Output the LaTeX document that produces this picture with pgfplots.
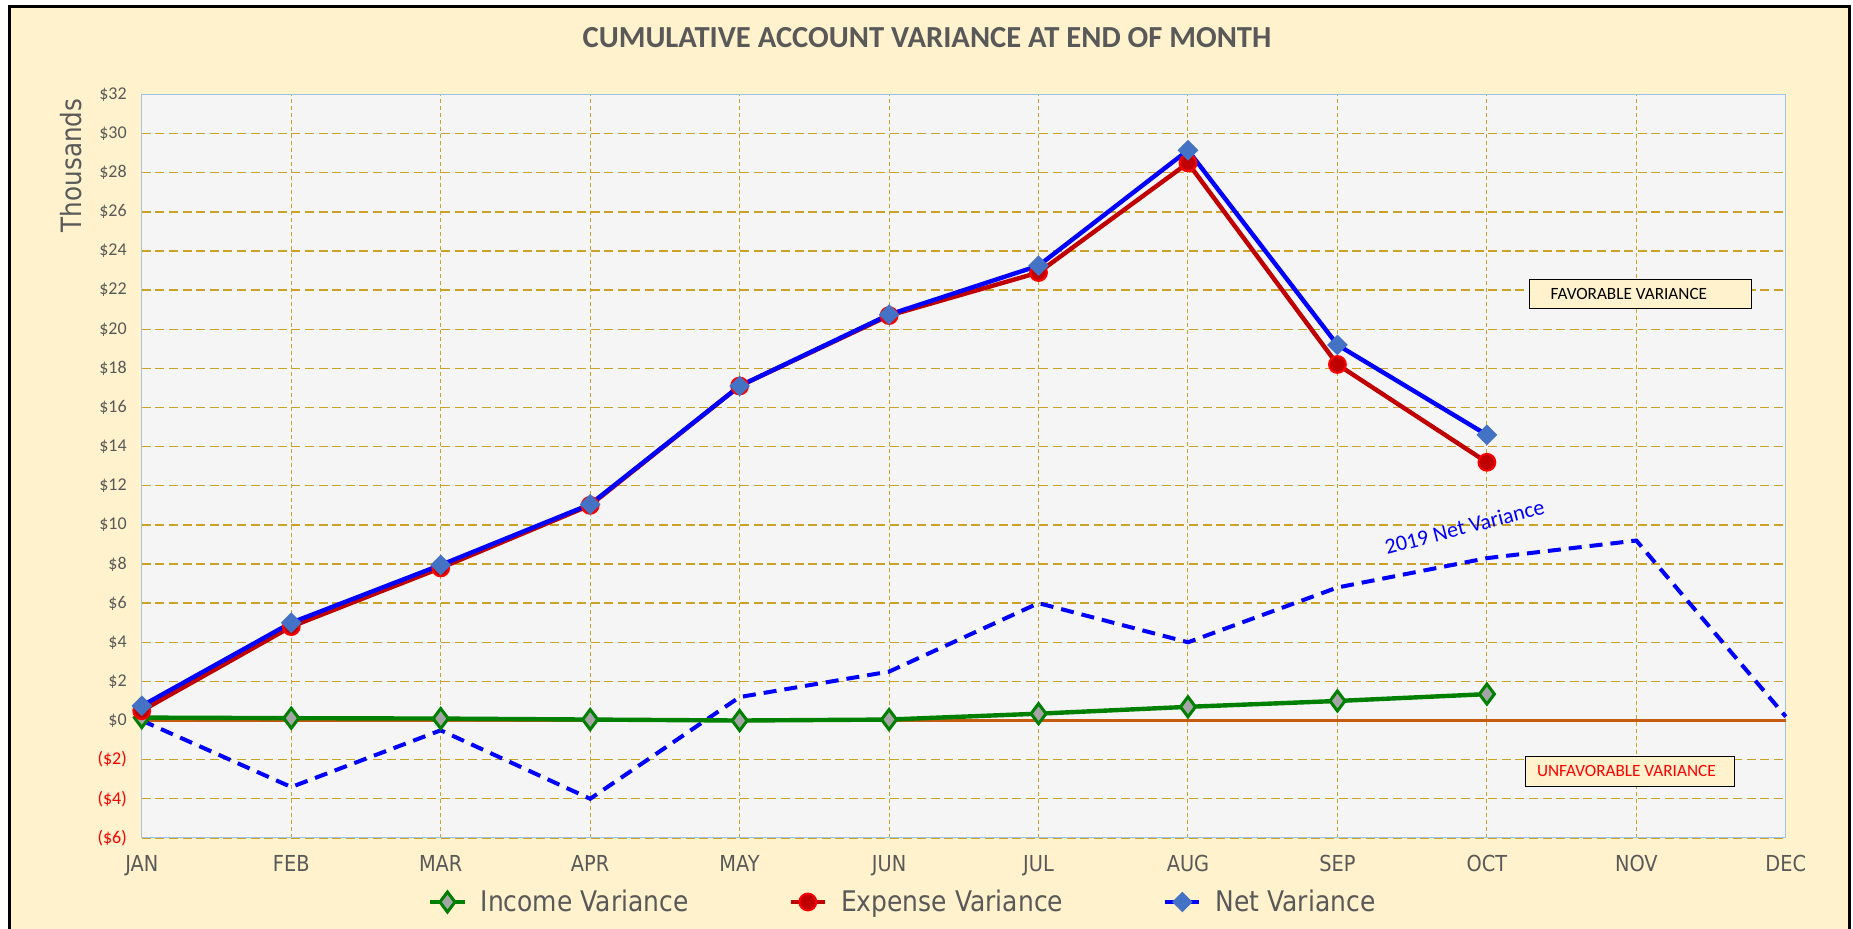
\documentclass[border=0pt]{standalone}
\usepackage{pgfplots}
\pgfplotsset{compat=1.18}
\usepackage{fontspec}
\setmainfont{Carlito}
\newfontfamily\tah[FakeStretch=0.88]{DejaVu Sans}
\definecolor{cream}{HTML}{FFF2CC}
\definecolor{plotbg}{HTML}{F5F5F5}
\definecolor{gridc}{HTML}{C9A227}
\definecolor{txtgray}{HTML}{595959}
\definecolor{netblue}{HTML}{0000FF}
\definecolor{netmark}{HTML}{4472C4}
\definecolor{expred}{HTML}{C00000}
\definecolor{brightred}{HTML}{FF0000}
\definecolor{incgreen}{HTML}{008000}
\definecolor{incgray}{HTML}{A5A5A5}
\definecolor{zeroorange}{HTML}{C55A11}
\definecolor{axblue}{HTML}{9DC3E6}
\begin{document}
\begin{tikzpicture}
\path[use as bounding box] (0pt,0pt) rectangle (926.5pt,-464pt);
\fill[white] (0pt,0pt) rectangle (926.5pt,-464pt);
\draw[line width=1.5pt, fill=cream] (4.5pt,-3pt) rectangle (924.5pt,-475pt);
\node[font=\fontsize{15.3}{18}\selectfont\bfseries, text=txtgray] at (463.5pt,-19pt) {CUMULATIVE ACCOUNT VARIANCE AT END OF MONTH};
\begin{axis}[
  at={(70.9pt,-47.25pt)}, anchor=north west,
  scale only axis, width=822pt, height=371.7pt,
  xmin=0, xmax=11, ymin=-6, ymax=32,
  xtick={0,...,11},
  xticklabels={JAN,FEB,MAR,APR,MAY,JUN,JUL,AUG,SEP,OCT,NOV,DEC},
  ytick={-6,-4,...,32},
  yticklabels={\textcolor{brightred}{(\$6)},\textcolor{brightred}{(\$4)},\textcolor{brightred}{(\$2)},\$0,\$2,\$4,\$6,\$8,\$10,\$12,\$14,\$16,\$18,\$20,\$22,\$24,\$26,\$28,\$30,\$32},
  major tick length=0pt,
  x tick label style={font=\tah\fontsize{11}{13}\selectfont, text=txtgray, yshift=-5pt},
  y tick label style={font=\fontsize{9}{11}\selectfont, text=txtgray, xshift=-4pt},
  grid=major,
  major x grid style={gridc, line width=0.5pt, dash pattern=on 2pt off 1.5pt},
  major y grid style={gridc, line width=0.7pt, dash pattern=on 4.5pt off 2.3pt},
  axis background/.style={fill=plotbg},
  axis line style={draw=axblue, line width=0.5pt},
  clip=false,
  legend columns=3,
  legend style={at={(0.4635,-0.0862)}, anchor=center, draw=none, fill=none,
    font=\tah\fontsize{14.2}{16}\selectfont, text=txtgray,
    /tikz/every even column/.append style={column sep=48pt},
    /tikz/every odd column/.append style={column sep=5pt}},
  legend cell align=left,
]
\addplot[zeroorange, line width=1.5pt, forget plot] coordinates {(0,0) (11,0)};
\addplot[netblue, line width=2pt, dash pattern=on 6.5pt off 4pt, forget plot] coordinates {
(0,0) (1,-3.4) (2,-0.5) (3,-4.0) (4,1.2) (5,2.5) (6,6.0) (7,4.0) (8,6.8) (9,8.3) (10,9.2) (11,0.2)};
\addplot[incgreen, line width=2.2pt, mark=diamond*, mark size=5pt,
  mark options={fill=incgray, draw=incgreen, line width=1.5pt}] coordinates {
(0,0.15) (1,0.12) (2,0.1) (3,0.05) (4,0.0) (5,0.05) (6,0.35) (7,0.7) (8,1.0) (9,1.35)};
\addlegendentry{Income Variance}
\addplot[expred, line width=2.2pt, mark=*, mark size=4.2pt,
  mark options={fill=expred, draw=brightred, line width=1pt}] coordinates {
(0,0.5) (1,4.8) (2,7.8) (3,11.0) (4,17.1) (5,20.7) (6,22.9) (7,28.5) (8,18.2) (9,13.2)};
\addlegendentry{Expense Variance}
\addplot[netblue, line width=2.2pt, mark=square*, mark size=3.4pt,
  mark options={fill=netmark, draw=netmark, rotate=45, line width=0.5pt}] coordinates {
(0,0.75) (1,5.0) (2,7.95) (3,11.05) (4,17.1) (5,20.75) (6,23.25) (7,29.15) (8,19.2) (9,14.6)};
\addlegendentry{Net Variance}
\node[draw=black, fill=cream, line width=0.6pt, minimum width=111pt, minimum height=14.5pt, font=\fontsize{8.6}{10}\selectfont, text=black, inner sep=0pt] at (axis cs:10.03,21.8) {FAVORABLE VARIANCE\hspace*{12pt}};
\node[draw=black, fill=cream, line width=0.6pt, minimum width=104.5pt, minimum height=15pt, font=\fontsize{8.6}{10}\selectfont, text=brightred, inner sep=0pt] at (axis cs:9.96,-2.59) {UNFAVORABLE VARIANCE\hspace*{4pt}};
\node[rotate=14.5, text=netblue, font=\fontsize{11}{13}\selectfont] at (axis cs:8.85,9.9) {2019 Net Variance};
\node[rotate=90, text=txtgray, font=\tah\fontsize{14}{16}\selectfont] at (rel axis cs:-0.043,0.9045) {Thousands};
\end{axis}
\end{tikzpicture}
\end{document}
